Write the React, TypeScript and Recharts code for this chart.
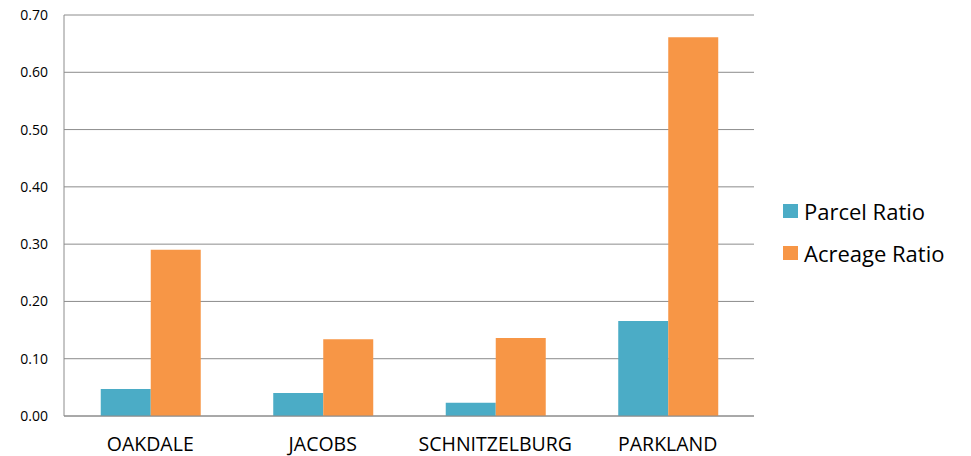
import React from 'react';
import { BarChart, Bar, XAxis, YAxis, CartesianGrid } from 'recharts';

const categories = ['OAKDALE', 'JACOBS', 'SCHNITZELBURG', 'PARKLAND'];
const parcelRatio = [0.047, 0.040, 0.023, 0.166];
const acreageRatio = [0.290, 0.134, 0.136, 0.661];
const yTicks = [0, 0.1, 0.2, 0.3, 0.4, 0.5, 0.6, 0.7];

const seriesNames = ['Parcel Ratio', 'Acreage Ratio'];
const seriesColors = ['#4BACC6', '#F79646'];

const data = categories.map((c, i) => ({
  name: c,
  parcel: parcelRatio[i],
  acreage: acreageRatio[i],
}));

const FONT = "'Open Sans', 'Noto Sans', sans-serif";

export default function App() {
  return (
    <div style={{ position: 'absolute', left: 0, top: 0, width: 971, height: 456, background: '#fff' }}>
      <BarChart
        width={971}
        height={456}
        data={data}
        margin={{ top: 15, right: 217, bottom: 0, left: 0 }}
        barCategoryGap="21.3%"
        barGap={0}
      >
        <CartesianGrid vertical={false} stroke="#8c8c8c" strokeWidth={1} />
        <XAxis
          dataKey="name"
          height={40}
          tickLine={false}
          axisLine={{ stroke: '#8c8c8c' }}
          tickSize={0}
          tickMargin={21}
          tick={{ fill: '#000', fontSize: 19.5, fontFamily: FONT }}
        />
        <YAxis
          width={64}
          domain={[0, 0.7]}
          ticks={yTicks}
          interval={0}
          tickFormatter={(v: number) => v.toFixed(2)}
          tickLine={false}
          axisLine={{ stroke: '#8c8c8c' }}
          tickSize={0}
          tickMargin={16}
          tick={{ fill: '#000', fontSize: 14, fontFamily: FONT }}
        />
        <Bar dataKey="parcel" name={seriesNames[0]} fill={seriesColors[0]} isAnimationActive={false} />
        <Bar dataKey="acreage" name={seriesNames[1]} fill={seriesColors[1]} isAnimationActive={false} />
      </BarChart>
      <div style={{ position: 'absolute', left: 783, top: 190, fontFamily: FONT }}>
        {seriesNames.map((n, i) => (
          <div key={n} style={{ display: 'flex', alignItems: 'center', height: 42 }}>
            <div style={{ width: 15, height: 14, background: seriesColors[i], marginRight: 6 }} />
            <span style={{ fontSize: 22, color: '#000', lineHeight: '42px' }}>{n}</span>
          </div>
        ))}
      </div>
    </div>
  );
}
